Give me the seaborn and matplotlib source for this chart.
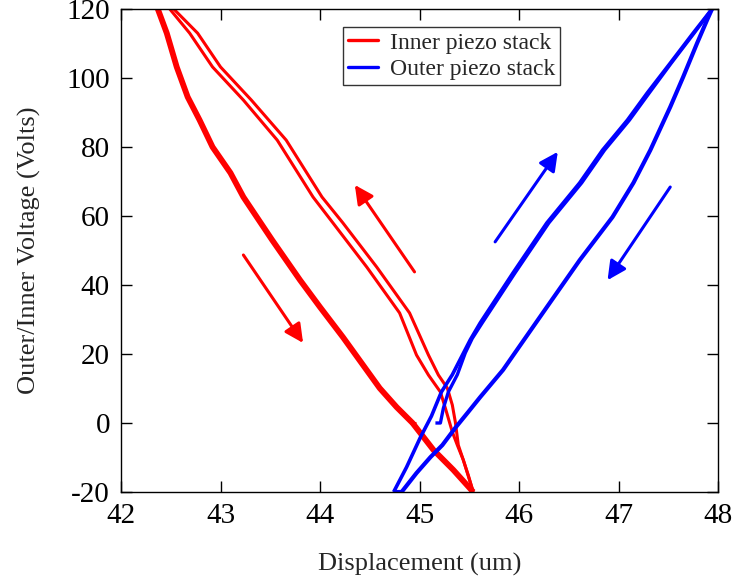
import matplotlib
matplotlib.use("Agg")
import matplotlib.pyplot as plt
from matplotlib.lines import Line2D
import seaborn as sns
import pandas as pd

# ---- Inner piezo stack (red) ----
# descending-voltage branch (drawn heavy: several passes overlap)
red_desc_x = [42.37, 42.46, 42.56, 42.67, 42.79, 42.92, 43.10, 43.23, 43.52, 43.80,
              44.00, 44.23, 44.60, 44.77, 44.93, 45.14, 45.34, 45.54]
red_desc_y = [120, 113.0, 103.2, 94.5, 87.8, 80.0, 72.5, 65.5, 53.0, 41.4,
              33.6, 24.9, 10.1, 4.6, 0.0, -7.8, -13.6, -20]
# two ascending-voltage passes
red_asc1_x = [45.54, 45.44, 45.38, 45.33, 45.26, 45.21, 45.09, 44.97, 44.80, 44.47,
              44.13, 43.93, 43.57, 43.23, 42.92, 42.69, 42.49]
red_asc1_y = [-20, -10.7, -6.4, -2.6, 4.3, 9.0, 13.9, 19.7, 31.9, 45.2,
              58.0, 65.5, 82.0, 93.6, 103.2, 113.0, 120]
red_asc2_x = [45.54, 45.49, 45.44, 45.39, 45.36, 45.33, 45.28, 45.19, 45.09, 44.90,
              44.57, 44.23, 44.02, 43.66, 43.31, 43.00, 42.77, 42.53]
red_asc2_y = [-20, -15.1, -10.7, -6.4, 0.3, 5.2, 10.1, 13.9, 19.7, 31.9,
              45.2, 58.0, 65.5, 82.0, 93.6, 103.2, 113.0, 120]
# starting point of the sweep
red_start_x = [44.90, 44.96]
red_start_y = [0, 0]

# ---- Outer piezo stack (blue) ----
blue_asc_x = [44.74, 44.87, 45.01, 45.12, 45.22, 45.33, 45.51, 45.61, 45.94, 46.28,
              46.61, 46.84, 47.09, 47.29, 47.52, 47.75, 47.94]
blue_asc_y = [-20, -12.8, -4.1, 2.0, 9.0, 14.0, 24.1, 29.0, 43.5, 58.0,
              69.6, 79.1, 87.8, 95.7, 104.3, 113.0, 120]
blue_desc_x = [47.94, 47.89, 47.79, 47.65, 47.52, 47.32, 47.15, 46.94, 46.61, 46.28,
               45.98, 45.84, 45.61, 45.49, 45.36, 45.23, 45.11, 44.97, 44.82, 44.74]
blue_desc_y = [120, 116.8, 110.1, 100.3, 91.6, 79.1, 69.6, 59.7, 47.2, 33.6,
               21.2, 15.4, 7.5, 3.2, -1.4, -6.4, -9.9, -14.5, -20, -20]
blue_start_x = [45.16, 45.21, 45.24, 45.29, 45.38, 45.46, 45.53, 45.63, 45.96, 46.30,
                46.63, 46.86, 47.11, 47.31, 47.53, 47.76, 47.94]
blue_start_y = [0, 0, 4.3, 9.0, 14.0, 20.3, 24.5, 29.0, 43.5, 58.0,
                69.6, 79.1, 87.8, 95.7, 104.3, 113.0, 120]

# direction arrows: (tail, head) in data units
red_arrow_up = ((44.95, 43.8), (44.35, 69.0))
red_arrow_down = ((43.23, 48.7), (43.83, 23.2))
blue_arrow_up = ((45.76, 52.5), (46.39, 78.6))
blue_arrow_down = ((47.52, 68.4), (46.89, 41.4))

x_ticks = [42, 43, 44, 45, 46, 47, 48]
y_ticks = [-20, 0, 20, 40, 60, 80, 100, 120]

RED = "#ff0000"
BLUE = "#0000ff"

sns.set_theme(style="ticks")
plt.rcParams["font.family"] = ["Liberation Serif", "DejaVu Serif"]
plt.rcParams["axes.unicode_minus"] = False

fig = plt.figure(figsize=(7.33, 5.81), dpi=100)
ax = fig.add_axes([121 / 733, 1 - 492 / 581, 597 / 733, 483 / 581])


def branch(xs, ys, color, lw):
    df = pd.DataFrame({"disp": xs, "volt": ys})
    sns.lineplot(data=df, x="disp", y="volt", sort=False, estimator=None,
                 color=color, linewidth=lw, ax=ax, solid_joinstyle="round",
                 solid_capstyle="butt")


branch(red_start_x, red_start_y, RED, 2.2)
branch(red_asc1_x, red_asc1_y, RED, 2.2)
branch(red_asc2_x, red_asc2_y, RED, 2.2)
branch(red_desc_x, red_desc_y, RED, 4.2)
branch(blue_start_x, blue_start_y, BLUE, 2.4)
branch(blue_asc_x, blue_asc_y, BLUE, 2.6)
branch(blue_desc_x, blue_desc_y, BLUE, 3.0)

for (tail, head), col in [(red_arrow_up, RED), (red_arrow_down, RED),
                          (blue_arrow_up, BLUE), (blue_arrow_down, BLUE)]:
    ax.annotate("", xy=head, xytext=tail,
                arrowprops=dict(arrowstyle="-|>", color=col, lw=2.2,
                                mutation_scale=28, shrinkA=0, shrinkB=0))

ax.set_xlim(42, 48)
ax.set_ylim(-20, 120)
ax.set_xticks(x_ticks)
ax.set_yticks(y_ticks)
ax.tick_params(direction="in", length=8, width=1, top=True, right=True,
               labelsize=21, colors="black")
ax.tick_params(axis="x", pad=8)
ax.tick_params(axis="y", pad=8)
for s in ax.spines.values():
    s.set_linewidth(1.0)
    s.set_color("black")

ax.set_xlabel("Displacement (um)", fontsize=19, labelpad=17)
ax.set_ylabel("Outer/Inner Voltage (Volts)", fontsize=19, labelpad=18)

handles = [Line2D([], [], color=RED, lw=2.4), Line2D([], [], color=BLUE, lw=2.4)]
leg = ax.legend(handles, ["Inner piezo stack", "Outer piezo stack"],
                loc="upper left", bbox_to_anchor=(0.372, 0.963), fontsize=17,
                frameon=True, fancybox=False, edgecolor="black",
                borderpad=0.22, labelspacing=0.2, handlelength=1.25,
                handletextpad=0.5, borderaxespad=0)
leg.get_frame().set_linewidth(1.0)

fig.savefig("out.png", dpi=100)
